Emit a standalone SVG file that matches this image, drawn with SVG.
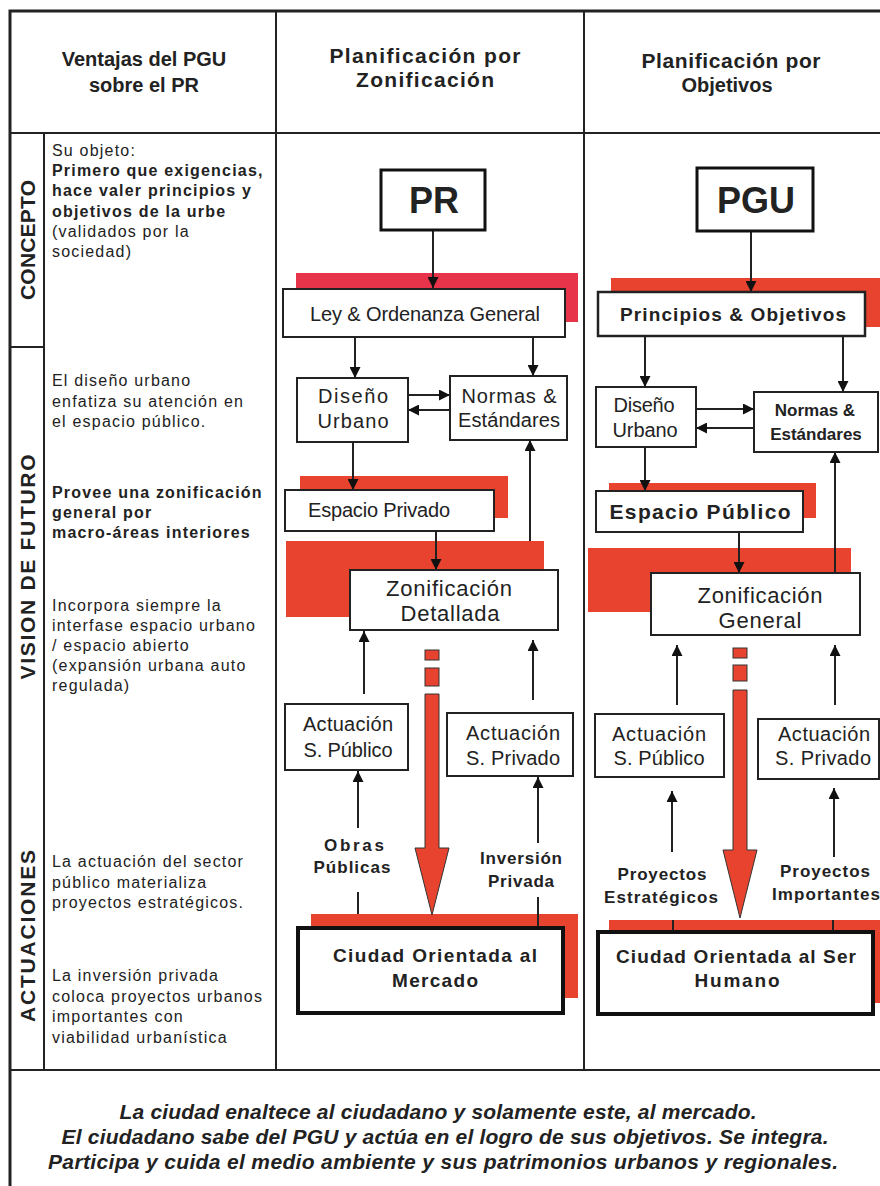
<svg xmlns="http://www.w3.org/2000/svg" width="880" height="1186" viewBox="0 0 880 1186">
<style>
text{font-family:"Liberation Sans",Arial,sans-serif;fill:#222}
.hd{font-size:21px;font-weight:bold;text-anchor:middle}
.vl{font-size:21px;font-weight:bold;text-anchor:middle}
.lt{font-size:16px;letter-spacing:1.2px}
.b{font-weight:bold}
.bx{fill:#fff;stroke:#222;stroke-width:2}
.bxt{fill:#fff;stroke:#111;stroke-width:4}
.red{fill:#e8432f}
.redp{fill:#e8344a}
.nt{font-size:20px;text-anchor:middle}
.lb{font-size:17px;font-weight:bold;text-anchor:middle}
.ln{stroke:#222;stroke-width:2;fill:none}
.frame{stroke:#222;fill:none}
.bt{font-size:21px;font-weight:bold;font-style:italic;text-anchor:middle}
.ra{fill:#e8432f;stroke:#333;stroke-width:1}
</style>
<defs>
<marker id="ah" viewBox="0 0 10 10" refX="10" refY="5" markerWidth="11" markerHeight="11" markerUnits="userSpaceOnUse" orient="auto">
<path d="M0,0 L10,5 L0,10 z" fill="#111"/>
</marker>
</defs>
<rect width="880" height="1186" fill="#fff"/>
<g id="frame">
<path class="frame" stroke-width="3" d="M10,1186 V11 H880"/>
<path class="frame" stroke-width="2" d="M10,133 H880 M276,11 V1070 M584,11 V1070 M44,133 V1070 M10,347 H44 M10,1070 H880"/>
</g>
<g id="header">
<text class="hd" x="144" y="66" style="font-size:20px">Ventajas del PGU</text>
<text class="hd" x="144" y="92" style="font-size:20px">sobre el PR</text>
<text class="hd" x="425" y="63" textLength="191">Planificación por</text>
<text class="hd" x="425" y="87" textLength="138">Zonificación</text>
<text class="hd" x="731" y="68" textLength="179">Planificación por</text>
<text class="hd" x="727" y="92" style="font-size:20px">Objetivos</text>
</g>
<g id="section-labels">
<text class="vl" transform="translate(35,240) rotate(-90)" textLength="120">CONCEPTO</text>
<text class="vl" transform="translate(35,567) rotate(-90)" textLength="225">VISION DE FUTURO</text>
<text class="vl" transform="translate(35,936) rotate(-90)" textLength="172">ACTUACIONES</text>
</g>
<g id="left-notes" class="lt">
<text x="52" y="156">Su objeto:</text>
<text x="52" y="176" class="b">Primero que exigencias,</text>
<text x="52" y="196" class="b">hace valer principios y</text>
<text x="52" y="217" class="b">objetivos de la urbe</text>
<text x="52" y="237">(validados por la</text>
<text x="52" y="257">sociedad)</text>
<text x="52" y="386">El diseño urbano</text>
<text x="52" y="407">enfatiza su atención en</text>
<text x="52" y="427">el espacio público.</text>
<text x="52" y="498" class="b">Provee una zonificación</text>
<text x="52" y="518" class="b">general por</text>
<text x="52" y="538" class="b">macro-áreas interiores</text>
<text x="52" y="611">Incorpora siempre la</text>
<text x="52" y="631">interfase espacio urbano</text>
<text x="52" y="651">/ espacio abierto</text>
<text x="52" y="671">(expansión urbana auto</text>
<text x="52" y="691">regulada)</text>
<text x="52" y="867">La actuación del sector</text>
<text x="52" y="888">público materializa</text>
<text x="52" y="908">proyectos estratégicos.</text>
<text x="52" y="981">La inversión privada</text>
<text x="52" y="1002">coloca proyectos urbanos</text>
<text x="52" y="1022">importantes con</text>
<text x="52" y="1043">viabilidad urbanística</text>
</g>
<g id="red-bands">
<rect class="redp" x="296" y="273" width="282" height="49"/>
<rect class="red" x="300" y="476" width="208" height="42"/>
<rect class="red" x="286" y="541" width="258" height="76"/>
<rect class="red" x="311" y="914" width="267" height="84"/>
<rect class="red" x="611" y="278" width="269" height="49"/>
<rect class="red" x="609" y="483" width="207" height="35"/>
<rect class="red" x="588" y="548" width="263" height="64"/>
<rect class="red" x="609" y="920" width="271" height="83"/>
</g>
<g id="big-arrows">
<rect class="ra" x="425" y="650" width="14" height="10"/>
<rect class="ra" x="425" y="668" width="14" height="18"/>
<path class="ra" d="M425,694 H439 V848 H449 L432,915 L415,848 H425 z"/>
<rect class="ra" x="733" y="648" width="14" height="10"/>
<rect class="ra" x="733" y="665" width="14" height="16"/>
<path class="ra" d="M733,690 H747 V850 H757 L740,918 L723,850 H733 z"/>
</g>
<g id="connectors">
<line class="ln" x1="433" y1="230" x2="433" y2="288" marker-end="url(#ah)"/>
<line class="ln" x1="355" y1="337" x2="355" y2="378" marker-end="url(#ah)"/>
<line class="ln" x1="533" y1="337" x2="533" y2="376" marker-end="url(#ah)"/>
<line class="ln" x1="408" y1="395" x2="450" y2="395" marker-end="url(#ah)"/>
<line class="ln" x1="450" y1="410" x2="408" y2="410" marker-end="url(#ah)"/>
<line class="ln" x1="353" y1="442" x2="353" y2="490" marker-end="url(#ah)"/>
<line class="ln" x1="436" y1="531" x2="436" y2="570" marker-end="url(#ah)"/>
<line class="ln" x1="530" y1="541" x2="530" y2="440" marker-end="url(#ah)"/>
<line class="ln" x1="364" y1="694" x2="364" y2="631" marker-end="url(#ah)"/>
<line class="ln" x1="533" y1="700" x2="533" y2="640" marker-end="url(#ah)"/>
<line class="ln" x1="358" y1="828" x2="358" y2="771" marker-end="url(#ah)"/>
<line class="ln" x1="358" y1="892" x2="358" y2="914"/>
<line class="ln" x1="538" y1="843" x2="538" y2="777" marker-end="url(#ah)"/>
<line class="ln" x1="538" y1="897" x2="538" y2="928"/>
<line class="ln" x1="751" y1="231" x2="751" y2="292" marker-end="url(#ah)"/>
<line class="ln" x1="645" y1="336" x2="645" y2="387" marker-end="url(#ah)"/>
<line class="ln" x1="843" y1="336" x2="843" y2="392" marker-end="url(#ah)"/>
<line class="ln" x1="696" y1="409" x2="754" y2="409" marker-end="url(#ah)"/>
<line class="ln" x1="754" y1="428" x2="696" y2="428" marker-end="url(#ah)"/>
<line class="ln" x1="645" y1="447" x2="645" y2="491" marker-end="url(#ah)"/>
<line class="ln" x1="739" y1="532" x2="739" y2="573" marker-end="url(#ah)"/>
<line class="ln" x1="835" y1="572" x2="835" y2="452" marker-end="url(#ah)"/>
<line class="ln" x1="677" y1="705" x2="677" y2="645" marker-end="url(#ah)"/>
<line class="ln" x1="835" y1="705" x2="835" y2="645" marker-end="url(#ah)"/>
<line class="ln" x1="672" y1="852" x2="672" y2="791" marker-end="url(#ah)"/>
<line class="ln" x1="834" y1="857" x2="834" y2="788" marker-end="url(#ah)"/>
<line class="ln" x1="673" y1="920" x2="673" y2="932"/>
<line class="ln" x1="833" y1="920" x2="833" y2="932"/>
</g>
<g id="node-pr">
<rect class="bxt" x="381" y="170" width="104" height="60" style="stroke-width:3px"/>
<text x="434" y="213" style="font-size:36px;font-weight:bold;text-anchor:middle">PR</text>
</g>
<g id="node-ley">
<rect class="bx" x="283" y="289" width="282" height="48"/>
<text class="nt" x="425" y="321" textLength="230">Ley &amp; Ordenanza General</text>
</g>
<g id="node-diseno-pr">
<rect class="bx" x="297" y="378" width="111" height="64"/>
<text class="nt" x="353" y="403" textLength="70">Diseño</text>
<text class="nt" x="353" y="428" textLength="71">Urbano</text>
</g>
<g id="node-normas-pr">
<rect class="bx" x="450" y="376" width="117" height="64"/>
<text class="nt" x="509" y="403" textLength="95">Normas &amp;</text>
<text class="nt" x="509" y="427" textLength="102">Estándares</text>
</g>
<g id="node-espacio-privado">
<rect class="bx" x="285" y="490" width="209" height="41"/>
<text class="nt" x="379" y="517" textLength="142">Espacio Privado</text>
</g>
<g id="node-zon-detallada">
<rect class="bx" x="350" y="570" width="208" height="60"/>
<text class="nt" x="449" y="596" style="font-size:22px" textLength="126">Zonificación</text>
<text class="nt" x="450" y="621" style="font-size:22px" textLength="99">Detallada</text>
</g>
<g id="node-act-pub-pr">
<rect class="bx" x="285" y="704" width="123" height="66"/>
<text class="nt" x="348" y="731" textLength="90">Actuación</text>
<text class="nt" x="348" y="757" textLength="89">S. Público</text>
</g>
<g id="node-act-priv-pr">
<rect class="bx" x="447" y="713" width="126" height="63"/>
<text class="nt" x="513" y="740" textLength="94">Actuación</text>
<text class="nt" x="513" y="765" textLength="94">S. Privado</text>
</g>
<g id="label-obras">
<text class="lb" x="354" y="851" textLength="60">Obras</text>
<text class="lb" x="352" y="873" textLength="77">Públicas</text>
</g>
<g id="label-inversion">
<text class="lb" x="521" y="864" textLength="82">Inversión</text>
<text class="lb" x="521" y="887" textLength="66">Privada</text>
</g>
<g id="node-ciudad-mercado">
<rect class="bxt" x="298" y="928" width="265" height="85"/>
<text class="nt b" x="435" y="962" style="font-size:19px" textLength="204">Ciudad Orientada al</text>
<text class="nt b" x="435" y="987" style="font-size:19px" textLength="86">Mercado</text>
</g>
<g id="node-pgu">
<rect class="bxt" x="697" y="168" width="116" height="63" style="stroke-width:3px"/>
<text x="756" y="213" style="font-size:36px;font-weight:bold;text-anchor:middle">PGU</text>
</g>
<g id="node-principios">
<rect class="bx" x="598" y="292" width="267" height="44" style="stroke-width:2.5px"/>
<text class="nt b" x="733" y="321" style="font-size:19px" textLength="226">Principios &amp; Objetivos</text>
</g>
<g id="node-diseno-pgu">
<rect class="bx" x="596" y="387" width="100" height="60"/>
<text class="nt" x="644" y="412" textLength="61">Diseño</text>
<text class="nt" x="645" y="437" textLength="65">Urbano</text>
</g>
<g id="node-normas-pgu">
<rect class="bx" x="754" y="392" width="124" height="60"/>
<text class="nt b" x="815" y="416" style="font-size:17px">Normas &amp;</text>
<text class="nt b" x="816" y="440" style="font-size:17px">Estándares</text>
</g>
<g id="node-espacio-publico">
<rect class="bx" x="596" y="491" width="207" height="41"/>
<text class="nt b" x="700" y="519" style="font-size:21px" textLength="181">Espacio Público</text>
</g>
<g id="node-zon-general">
<rect class="bx" x="651" y="573" width="209" height="62"/>
<text class="nt" x="760" y="603" style="font-size:22px" textLength="125">Zonificación</text>
<text class="nt" x="760" y="628" style="font-size:22px" textLength="83">General</text>
</g>
<g id="node-act-pub-pgu">
<rect class="bx" x="595" y="714" width="129" height="63"/>
<text class="nt" x="659" y="741" textLength="94">Actuación</text>
<text class="nt" x="659" y="765" textLength="91">S. Público</text>
</g>
<g id="node-act-priv-pgu">
<rect class="bx" x="758" y="719" width="121" height="60"/>
<text class="nt" x="824" y="741" textLength="92">Actuación</text>
<text class="nt" x="823" y="765" textLength="96">S. Privado</text>
</g>
<g id="label-proy-estrategicos">
<text class="lb" x="662" y="880" textLength="89">Proyectos</text>
<text class="lb" x="661" y="903" textLength="114">Estratégicos</text>
</g>
<g id="label-proy-importantes">
<text class="lb" x="825" y="877" textLength="90">Proyectos</text>
<text class="lb" x="826" y="900" textLength="108">Importantes</text>
</g>
<g id="node-ciudad-humano">
<rect class="bxt" x="598" y="932" width="275" height="82"/>
<text class="nt b" x="736" y="963" style="font-size:19px" textLength="240">Ciudad Orientada al Ser</text>
<text class="nt b" x="737" y="987" style="font-size:19px" textLength="85">Humano</text>
</g>
<g id="footer">
<text class="bt" x="438" y="1119" textLength="637">La ciudad enaltece al ciudadano y solamente este, al mercado.</text>
<text class="bt" x="445" y="1144" textLength="767">El ciudadano sabe del PGU y actúa en el logro de sus objetivos. Se integra.</text>
<text class="bt" x="443" y="1169" textLength="790">Participa y cuida el medio ambiente y sus patrimonios urbanos y regionales.</text>
</g>
</svg>
